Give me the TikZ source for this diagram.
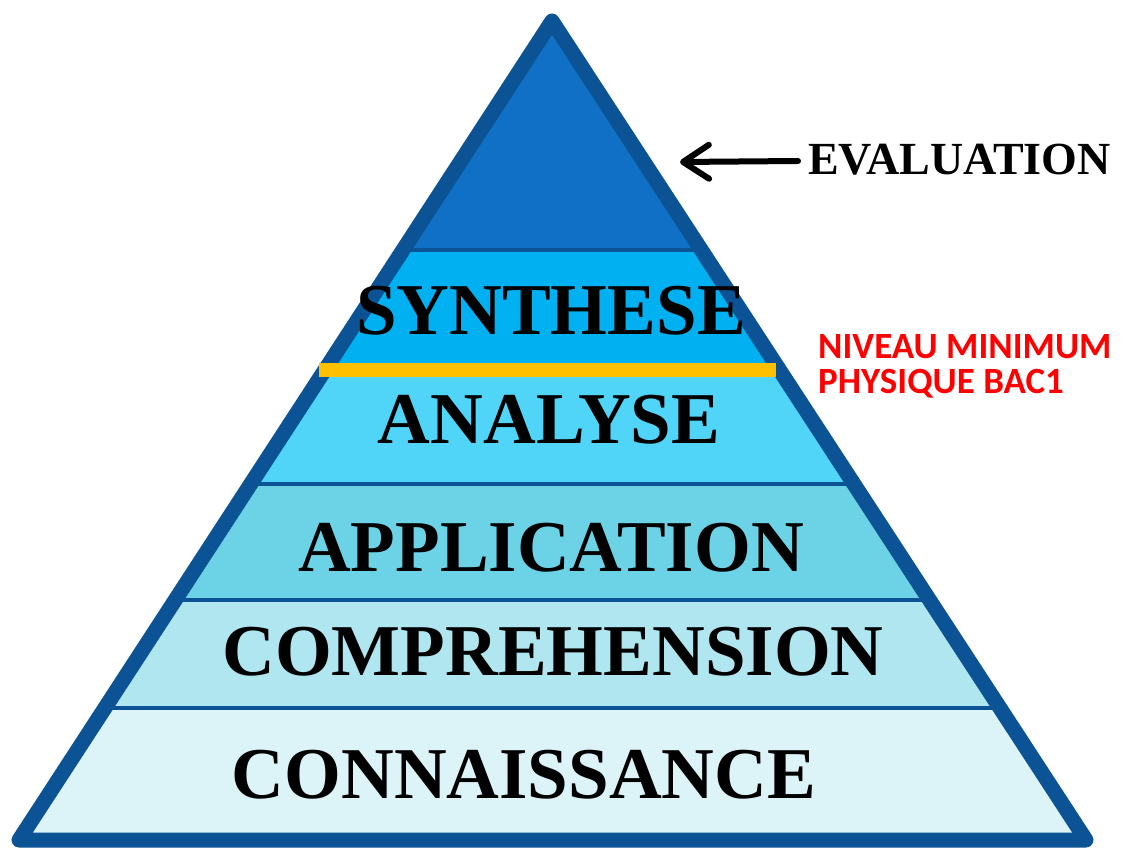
\documentclass[tikz,border=0pt]{standalone}
\usepackage{fontspec}
\setmainfont{Liberation Serif}
\newfontfamily\labelsans{Carlito}
\usetikzlibrary{arrows.meta}

\definecolor{rim}{RGB}{11,83,148}
\definecolor{lvlsix}{RGB}{16,112,198}
\definecolor{lvlfive}{RGB}{0,176,240}
\definecolor{lvlfour}{RGB}{80,212,248}
\definecolor{lvlthree}{RGB}{108,210,230}
\definecolor{lvltwo}{RGB}{175,230,240}
\definecolor{lvlone}{RGB}{220,243,248}
\definecolor{goldbar}{RGB}{255,192,0}
\definecolor{notered}{RGB}{255,0,0}

\tikzset{
  level/.style={font=\bfseries\fontsize{73}{73}\selectfont, text=black, inner sep=0pt},
  sidelabel/.style={font=\bfseries\fontsize{46}{46}\selectfont, text=black, inner sep=0pt},
  note/.style={font=\labelsans\bfseries\fontsize{37}{35}\selectfont, text=notered,
               align=left, inner sep=0pt},
  divider/.style={draw=rim, line width=4},
  pointer/.style={-{Straight Barb[length=26,width=34,line cap=round,line join=round]},
                  line width=6, line cap=round}
}

\begin{document}
\begin{tikzpicture}[x=1pt, y=-1pt]
  \fill[white] (0,0) rectangle (1124,866);
  \useasboundingbox (0,0) rectangle (1124,866);

  % pyramid outline corners
  \coordinate (apex) at (552,21);
  \coordinate (bl) at (19,840);
  \coordinate (br) at (1086,840);

  % coloured levels
  \begin{scope}
    \clip (apex) -- (bl) -- (br) -- cycle;
    \fill[lvlsix]   (0,0)   rectangle (1124,250);
    \fill[lvlfive]  (0,250) rectangle (1124,370);
    \fill[lvlfour]  (0,370) rectangle (1124,484);
    \fill[lvlthree] (0,484) rectangle (1124,600);
    \fill[lvltwo]   (0,600) rectangle (1124,708);
    \fill[lvlone]   (0,708) rectangle (1124,866);
    \draw[divider] (0,250) -- (1124,250);
    \draw[divider] (0,484) -- (1124,484);
    \draw[divider] (0,600) -- (1124,600);
    \draw[divider] (0,708) -- (1124,708);
  \end{scope}

  \draw[rim, line width=15, line join=round] (apex) -- (bl) -- (br) -- cycle;

  % minimum level marker
  \fill[goldbar] (319,363) rectangle (776,377);

  % level names
  \node[level] (synth) at (551,311) {SYNTHESE};
  \node[level] (anal)  at (549,420) {ANALYSE};
  \node[level] (appl)  at (551,548) {APPLICATION};
  \node[level] (compr) at (553,652) {COMPREHENSION};
  \node[level] (conn)  at (524,775) {CONNAISSANCE};

  % top level, labelled outside
  \node[sidelabel, anchor=west] (eval) at (808,160) {EVALUATION};
  \coordinate (evaltip) at (680,162);
  \draw[pointer] (eval.west) ++(-10,1) -- (evaltip);

  \node[note, anchor=west] (minimum) at (818,366) {NIVEAU MINIMUM\\PHYSIQUE BAC1};
\end{tikzpicture}
\end{document}
